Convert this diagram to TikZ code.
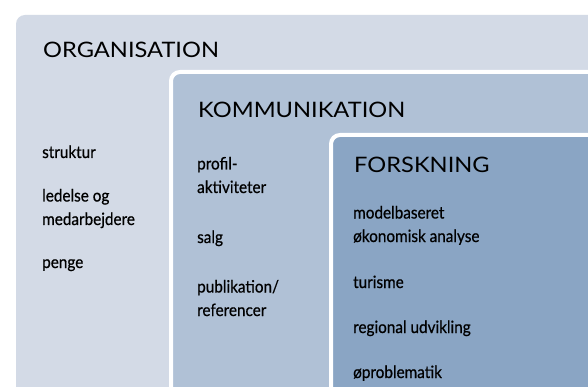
\documentclass[tikz,border=0pt]{standalone}
\usepackage{fontspec}
\setmainfont{Lato}
\newfontfamily\headfont[FakeStretch=1.11]{Lato}
\newfontfamily\entryfont[FakeStretch=0.9,FakeBold=0.6]{Lato}
\definecolor{orgfill}{HTML}{D3DAE6}
\definecolor{komfill}{HTML}{B0C1D6}
\definecolor{forskfill}{HTML}{8AA5C4}

\begin{document}
\begin{tikzpicture}[x=1pt,y=-1pt,
    head/.style={anchor=base west,inner sep=0pt,font=\headfont\fontsize{21.3}{21}\selectfont},
    entry/.style={anchor=base west,inner sep=0pt,align=left,
        font=\entryfont\fontsize{17}{23.5}\selectfont}]
\clip (0,0) rectangle (588,387);
\fill[white] (0,0) rectangle (588,387);
% the three nested fields
\fill[orgfill,rounded corners=9pt] (16,15) rectangle (640,440);
\draw[white,line width=4pt,fill=komfill,rounded corners=9pt] (171,72) rectangle (640,440);
\draw[white,line width=4pt,fill=forskfill,rounded corners=9pt] (331,135) rectangle (640,440);

\node[head] (org) at (43,58) {ORGANISATION};
\node[head] (kom) at (198,118) {KOMMUNIKATION};
\node[head] (forsk) at (354,173) {FORSKNING};

% base of a two-line entry is its last line
\foreach \txt/\y [count=\i] in {struktur/158,{ledelse og\\medarbejdere}/225,penge/268}
    \node[entry] (org\i) at (42,\y) {\txt};
\foreach \txt/\y [count=\i] in {{profil-\\aktiviteter}/193,salg/243,{publikation/\\referencer}/316}
    \node[entry] (kom\i) at (197,\y) {\txt};
\foreach \txt/\y [count=\i] in {{modelbaseret\\økonomisk analyse}/242,turisme/288,regional udvikling/333,øproblematik/378}
    \node[entry] (forsk\i) at (353,\y) {\txt};

\end{tikzpicture}
\end{document}
